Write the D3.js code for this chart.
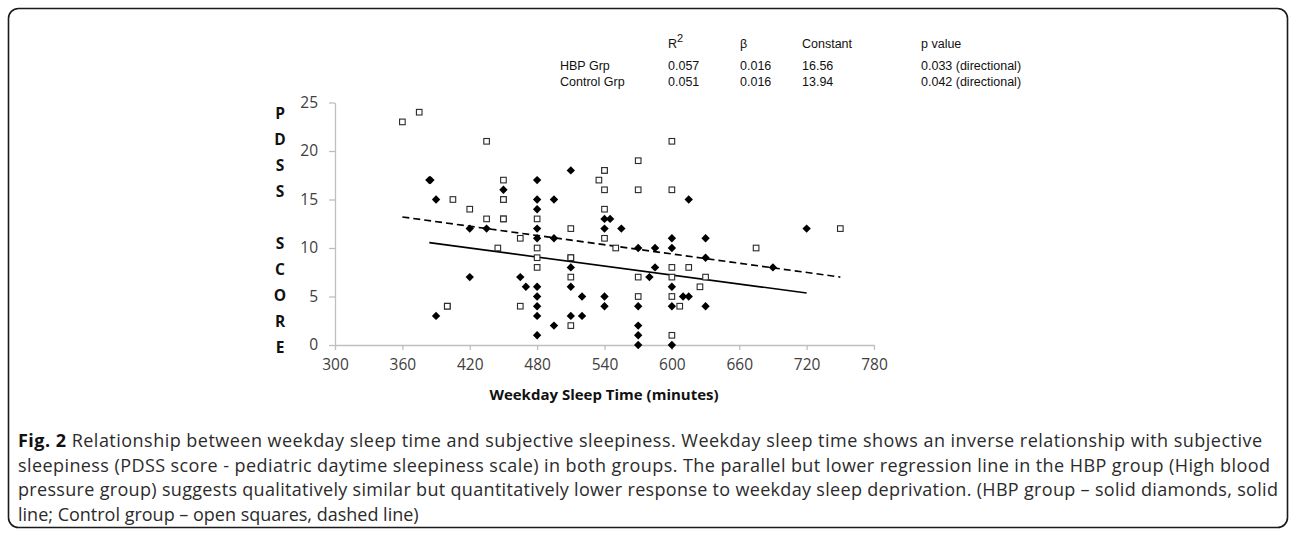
<!DOCTYPE html>
<html>
<head>
<meta charset="utf-8">
<script src="https://cdn.jsdelivr.net/npm/d3@7"></script>
<style>
  html, body { margin: 0; padding: 0; background: #fff; }
  svg { display: block; }
</style>
</head>
<body>
<svg id="chart" width="1296" height="536"></svg>
<script>
// ---- Data ----
const hbpX = [384, 385, 390, 390, 420, 420, 435, 450, 465, 470,
  480, 480, 480, 480, 480, 480, 480, 480, 480, 480,
  495, 495, 495, 510, 510, 510, 510, 520, 520,
  540, 540, 540, 540, 545, 555,
  570, 570, 570, 570, 570, 580, 585, 585,
  600, 600, 600, 600, 600, 610, 615, 615,
  630, 630, 630, 690, 720];
const hbpY = [17, 17, 15, 3, 12, 7, 12, 16, 7, 6,
  17, 15, 14, 12, 11, 6, 5, 4, 3, 1,
  15, 11, 2, 18, 8, 6, 3, 5, 3,
  13, 12, 5, 4, 13, 12,
  10, 4, 2, 1, 0, 7, 10, 8,
  11, 10, 6, 4, 0, 5, 15, 5,
  11, 9, 4, 8, 12];

const controlX = [360, 375, 400, 400, 405, 420, 435, 435, 445, 450, 450, 450, 450, 450, 465, 465,
  480, 480, 480, 480,
  510, 510, 510, 510, 510,
  535, 540, 540, 540, 540, 540, 550,
  570, 570, 570, 570,
  600, 600, 600, 600, 600, 600, 607, 615, 625, 630, 675, 750];
const controlY = [23, 24, 4, 4, 15, 14, 21, 13, 10, 17, 15, 15, 13, 13, 11, 4,
  13, 10, 9, 8,
  12, 9, 9, 7, 2,
  17, 18, 18, 16, 14, 11, 10,
  19, 16, 7, 5,
  21, 16, 8, 7, 5, 1, 4, 8, 6, 7, 10, 12];

// regression line end points (x in minutes, y in PDSS score)
const hbpLineX = [384, 720];
const hbpLineY = [10.55, 5.36];
const controlLineX = [360, 750];
const controlLineY = [13.2, 7.0];

const xTicks = [300, 360, 420, 480, 540, 600, 660, 720, 780];
const yTicks = [0, 5, 10, 15, 20, 25];

const yTitleLetters = ["P", "D", "S", "S", "", "S", "C", "O", "R", "E"];
const xTitle = "Weekday Sleep Time (minutes)";

const tableCols = ["R2", "β", "Constant", "p value"];
const tableRowNames = ["HBP Grp", "Control Grp"];
const tableR2 = ["0.057", "0.051"];
const tableBeta = ["0.016", "0.016"];
const tableConst = ["16.56", "13.94"];
const tableP = ["0.033 (directional)", "0.042 (directional)"];

const captionLead = "Fig. 2";
const captionLines = [
  " Relationship between weekday sleep time and subjective sleepiness. Weekday sleep time shows an inverse relationship with subjective",
  "sleepiness (PDSS score - pediatric daytime sleepiness scale) in both groups. The parallel but lower regression line in the HBP group (High blood",
  "pressure group) suggests qualitatively similar but quantitatively lower response to weekday sleep deprivation. (HBP group – solid diamonds, solid",
  "line; Control group – open squares, dashed line)"
];
const captionWidths = [1244, 1252, 1260, null];

// ---- Drawing ----
const svg = d3.select("#chart");

// frame
svg.append("rect")
  .attr("x", 8.5).attr("y", 8.5)
  .attr("width", 1279).attr("height", 519)
  .attr("rx", 10).attr("ry", 10)
  .attr("fill", "none").attr("stroke", "#1a1a1a").attr("stroke-width", 1.6);

const x = d3.scaleLinear().domain([300, 780]).range([335, 874]);
const y = d3.scaleLinear().domain([0, 25]).range([345, 102.5]);

const axisColor = "#bfbfbf";
const tickFont = "'Open Sans', 'Noto Sans', sans-serif";

// x axis
const gx = svg.append("g").attr("transform", `translate(0,${y(0)})`)
  .call(d3.axisBottom(x).tickValues(xTicks).tickSize(5).tickSizeOuter(0).tickFormat(d3.format("d")));
gx.select(".domain").attr("stroke", axisColor).attr("stroke-width", 1.3);
gx.selectAll(".tick line").attr("stroke", axisColor).attr("stroke-width", 1.3);
gx.selectAll(".tick text")
  .attr("y", 14).attr("dy", "0.71em")
  .attr("font-family", tickFont).attr("font-size", 15.5).attr("fill", "#404040");

// y axis
const gy = svg.append("g").attr("transform", `translate(${x(300)},0)`)
  .call(d3.axisLeft(y).tickValues(yTicks).tickSize(6).tickSizeOuter(0).tickFormat(d3.format("d")));
gy.select(".domain").attr("stroke", axisColor).attr("stroke-width", 1.3);
gy.selectAll(".tick line").attr("stroke", axisColor).attr("stroke-width", 1.3);
gy.selectAll(".tick text")
  .attr("x", -17)
  .attr("font-family", tickFont).attr("font-size", 15.5).attr("fill", "#404040");

// y title (stacked letters)
svg.append("g").selectAll("text").data(yTitleLetters).join("text")
  .attr("x", 280).attr("y", (d, i) => 118.5 + i * 26)
  .attr("text-anchor", "middle")
  .attr("font-family", tickFont).attr("font-weight", "bold").attr("font-size", 15.5)
  .attr("fill", "#111")
  .text(d => d);

// x title
svg.append("text")
  .attr("x", 604).attr("y", 400)
  .attr("text-anchor", "middle")
  .attr("font-family", tickFont).attr("font-weight", "bold").attr("font-size", 15)
  .attr("fill", "#111")
  .text(xTitle);

// regression lines
const line = d3.line().x(d => x(d[0])).y(d => y(d[1]));
svg.append("path")
  .datum(controlLineX.map((v, i) => [v, controlLineY[i]]))
  .attr("d", line).attr("fill", "none")
  .attr("stroke", "#000").attr("stroke-width", 1.6).attr("stroke-dasharray", "7,4");
svg.append("path")
  .datum(hbpLineX.map((v, i) => [v, hbpLineY[i]]))
  .attr("d", line).attr("fill", "none")
  .attr("stroke", "#000").attr("stroke-width", 1.6);

// control: open squares
const sq = 5.6;
svg.append("g").selectAll("rect").data(controlX.map((v, i) => [v, controlY[i]])).join("rect")
  .attr("x", d => x(d[0]) - sq / 2).attr("y", d => y(d[1]) - sq / 2)
  .attr("width", sq).attr("height", sq)
  .attr("fill", "#fff").attr("stroke", "#2a2a2a").attr("stroke-width", 1.1);

// HBP: filled diamonds
const dm = 4.2;
svg.append("g").selectAll("path").data(hbpX.map((v, i) => [v, hbpY[i]])).join("path")
  .attr("transform", d => `translate(${x(d[0])},${y(d[1])})`)
  .attr("d", `M0,${-dm}L${dm},0L0,${dm}L${-dm},0Z`)
  .attr("fill", "#000");

// stats table
const tFont = "'Liberation Sans', Arial, sans-serif";
const colX = [668, 740, 802, 921];
const nameX = 560;
const tg = svg.append("g").attr("font-family", tFont).attr("font-size", 12.5).attr("fill", "#111");
const header = tg.append("text").attr("x", colX[0]).attr("y", 48);
header.append("tspan").text("R");
header.append("tspan").attr("dy", -6).attr("font-size", 11).text("2");
tableCols.slice(1).forEach((c, i) => {
  tg.append("text").attr("x", colX[i + 1]).attr("y", 48).text(c);
});
tableRowNames.forEach((n, r) => {
  const yy = 70 + r * 16;
  tg.append("text").attr("x", nameX).attr("y", yy).text(n);
  tg.append("text").attr("x", colX[0]).attr("y", yy).text(tableR2[r]);
  tg.append("text").attr("x", colX[1]).attr("y", yy).text(tableBeta[r]);
  tg.append("text").attr("x", colX[2]).attr("y", yy).text(tableConst[r]);
  tg.append("text").attr("x", colX[3]).attr("y", yy).text(tableP[r]);
});

// caption
const cFont = "'Open Sans', 'Noto Sans', sans-serif";
const cg = svg.append("g").attr("font-family", cFont).attr("font-size", 18).attr("fill", "#2b2b2b");
captionLines.forEach((ln, i) => {
  const t = cg.append("text").attr("x", 18).attr("y", 447 + i * 24.7);
  if (captionWidths[i]) t.attr("textLength", captionWidths[i]).attr("lengthAdjust", "spacing");
  if (i === 0) {
    t.append("tspan").attr("font-weight", "bold").attr("fill", "#111").text(captionLead);
  }
  t.append("tspan").text(ln);
});
</script>
</body>
</html>
